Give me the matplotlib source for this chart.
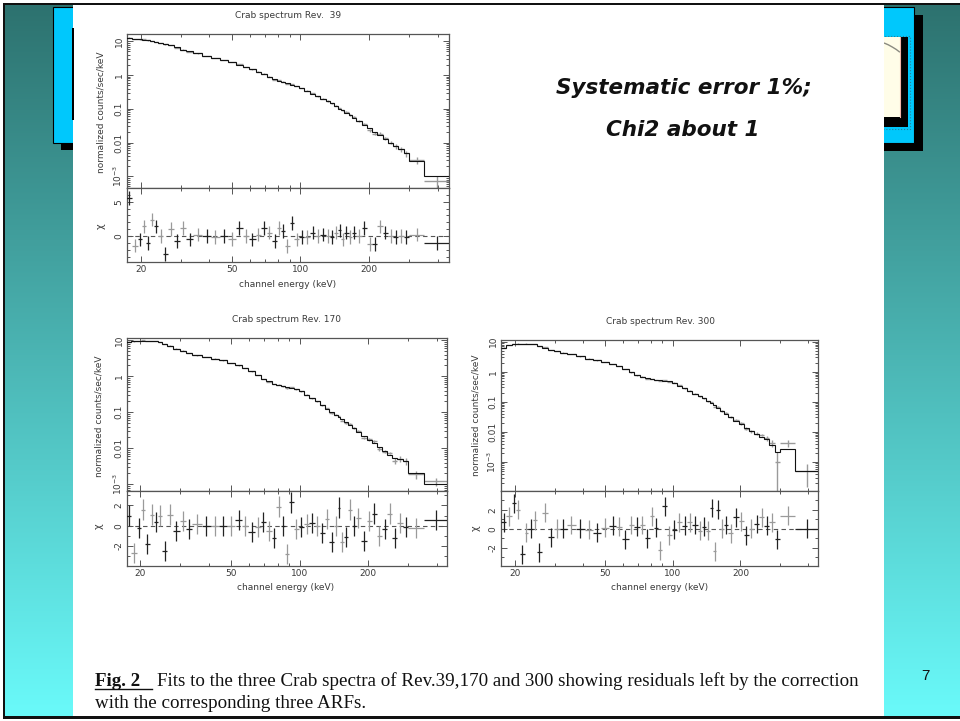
import numpy as np
import matplotlib
matplotlib.use("Agg")
import matplotlib.pyplot as plt
from matplotlib.patches import Rectangle, Arc
from matplotlib.ticker import (FixedLocator, FixedFormatter, NullFormatter,
                               LogLocator, MultipleLocator)

# ---------------- data ----------------
energy_edges = [17.3, 18.3, 19.4, 20.2, 21.0, 22.0, 22.9, 23.9, 25.0, 26.2,
                27.9, 29.8, 31.6, 33.9, 37.2, 40.8, 44.3, 48.2, 52.3, 56.0,
                59.6, 63.7, 67.6, 71.3, 75.3, 79.1, 82.6, 85.9, 89.9, 94.3,
                99.2, 104.3, 110.3, 116.3, 122.4, 129.1, 135.1, 141.2, 146.7, 151.0,
                156.2, 162.9, 169.0, 176.3, 186.1, 196.7, 206.9, 217.6, 230.0, 242.7,
                255.3, 268.6, 284.0, 300.0, 350.0, 450.0]

model_rev39 = [12.3, 12.0, 11.5, 11.2, 10.7, 10.2, 9.55, 8.91, 8.32, 7.59,
               6.61, 5.62, 5.01, 4.37, 3.72, 3.24, 2.82, 2.40, 2.04, 1.74,
               1.48, 1.26, 1.07, 0.891, 0.741, 0.676, 0.631, 0.575, 0.525, 0.479,
               0.417, 0.347, 0.282, 0.234, 0.200, 0.170, 0.145, 0.120, 0.102, 0.0912,
               0.0776, 0.0661, 0.0550, 0.0437, 0.0339, 0.0263, 0.0209, 0.0162, 0.0129, 0.0100,
               0.00794, 0.00631, 0.00501, 0.00282, 0.00102]
model_rev170 = [9.12, 9.55, 9.77, 9.77, 9.77, 9.55, 9.33, 8.91, 8.13, 7.08,
                5.89, 5.13, 4.47, 3.80, 3.39, 3.09, 2.75, 2.34, 2.00, 1.70,
                1.38, 1.10, 0.832, 0.724, 0.631, 0.562, 0.525, 0.490, 0.468, 0.437,
                0.380, 0.309, 0.245, 0.200, 0.158, 0.126, 0.102, 0.0851, 0.0724, 0.0631,
                0.0525, 0.0437, 0.0363, 0.0288, 0.0219, 0.0170, 0.0138, 0.0107, 0.00832, 0.00661,
                0.00550, 0.00490, 0.00447, 0.00200, 0.00102]
model_rev300 = [6.31, 7.76, 8.32, 8.51, 8.71, 8.71, 8.51, 8.13, 7.41, 6.31,
                5.37, 4.79, 4.37, 3.80, 3.24, 2.75, 2.40, 2.09, 1.78, 1.51,
                1.26, 0.955, 0.759, 0.676, 0.603, 0.562, 0.525, 0.513, 0.501, 0.479,
                0.427, 0.347, 0.282, 0.229, 0.186, 0.155, 0.129, 0.105, 0.0891, 0.0759,
                0.0617, 0.0501, 0.0407, 0.0316, 0.0234, 0.0178, 0.0138, 0.0105, 0.00832, 0.00692,
                0.00575, 0.00355, 0.00219, 0.00263, 0.000501]

chi_rev39 = [5.5, -1.4, -0.5, 1.4, -1.0, 2.4, 1.4, 0.0, -2.6, 1.0,
             -0.7, 1.2, -0.5, 0.2, 0.0, -0.2, 0.0, -0.4, 1.2, 0.0,
             -0.5, 0.2, 1.2, 0.5, -0.7, 1.2, 0.7, -1.5, 1.9, -0.5,
             -0.2, -0.1, 0.5, 0.0, 0.2, 0.0, -0.2, 0.5, 0.8, -0.5,
             0.5, -0.2, 0.5, 0.0, 1.2, -1.2, -1.2, 1.4, 0.5, 0.0,
             -0.2, 0.0, -0.2, 0.2, -1.0]
chi_rev170 = [1.0, -2.7, -0.2, 1.6, -1.8, 1.1, 0.4, 1.0, -2.5, 1.1,
              -0.5, 0.5, -0.3, 0.2, 0.0, 0.0, 0.0, 0.0, 0.6, 0.0,
              -0.6, -0.1, 0.4, -0.5, -1.2, 1.9, 0.0, -2.8, 2.3, -0.3,
              -0.1, 0.2, 0.3, 0.0, -0.7, 0.7, -1.6, 0.0, 1.8, -1.6,
              -1.1, 1.6, 0.0, 0.8, -1.5, 0.5, 1.2, -1.0, -0.3, 1.2,
              -1.2, 0.3, -0.1, -0.2, 0.6]
chi_rev300 = [0.7, 1.3, 2.7, 2.0, -2.7, -0.4, 0.0, 0.9, -2.5, 1.7,
              -0.9, 0.0, 0.0, 0.4, 0.0, -0.1, -0.4, 0.1, 0.3, 0.2,
              -1.1, 0.4, 0.2, 0.4, -1.0, 1.3, 0.1, -2.3, 2.4, -0.7,
              -0.1, 0.7, 0.3, 0.7, 0.4, -0.2, 0.2, -0.2, 2.2, -2.4,
              2.0, 0.0, 0.4, -0.5, 1.2, 0.8, -0.7, 0.0, 0.5, 1.2,
              0.3, 0.7, -1.1, 1.4, 0.0]

relerr_common = [0.01, 0.01, 0.01, 0.01, 0.01, 0.01, 0.01, 0.01, 0.01, 0.01,
                 0.012, 0.012, 0.012, 0.012, 0.012, 0.012, 0.012, 0.012, 0.012, 0.012,
                 0.02, 0.02, 0.02, 0.02, 0.02, 0.02, 0.02, 0.02, 0.02, 0.02,
                 0.03, 0.03, 0.03, 0.03, 0.03, 0.04, 0.04, 0.04, 0.04, 0.04,
                 0.06, 0.06, 0.06, 0.06, 0.06, 0.10, 0.10, 0.10, 0.10, 0.10,
                 0.15, 0.18, 0.20, 0.25, 0.30]
relerr_rev300 = [0.01, 0.01, 0.01, 0.01, 0.01, 0.01, 0.01, 0.01, 0.01, 0.01,
                 0.012, 0.012, 0.012, 0.012, 0.012, 0.012, 0.012, 0.012, 0.012, 0.012,
                 0.02, 0.02, 0.02, 0.02, 0.02, 0.02, 0.02, 0.02, 0.02, 0.02,
                 0.03, 0.03, 0.03, 0.03, 0.03, 0.04, 0.04, 0.04, 0.04, 0.04,
                 0.06, 0.06, 0.06, 0.06, 0.06, 0.10, 0.10, 0.10, 0.10, 0.10,
                 0.20, 0.30, 0.50, 0.40, 0.70]

xtick_values = [20, 50, 100, 200]
xtick_labels = ["20", "50", "100", "200"]
ytick_values = [1e-3, 1e-2, 1e-1, 1, 10]
ytick_labels = ["$10^{-3}$", "0.01", "0.1", "1", "10"]

titles = ["Crab spectrum Rev.  39", "Crab spectrum Rev. 170", "Crab spectrum Rev. 300"]
xlabel_text = "channel energy (keV)"
ylabel_text = "normalized counts/sec/keV"
note_lines = ["Systematic error 1%;", "Chi2 about 1"]
caption_fig = "Fig. 2"
caption_line1 = "Fits to the three Crab spectra of Rev.39,170 and 300 showing residuals left by the correction"
caption_line2 = "with the corresponding three ARFs."
page_number = "7"

# ---------------- figure ----------------
W, H = 960, 721
fig = plt.figure(figsize=(W / 100, H / 100), dpi=100)
fig.patch.set_facecolor("white")


def fx(x):
    return x / W


def fy(y):
    return 1 - y / H


def frame(l, t, r, b):
    return [l / W, 1 - b / H, (r - l) / W, (b - t) / H]


# background slide
bg = fig.add_axes([0, 0, 1, 1])
top_c = np.array([0x2d, 0x72, 0x6f]) / 255
bot_c = np.array([0x6a, 0xfa, 0xfa]) / 255
tt = np.linspace(0, 1, 256)[:, None, None]
grad = top_c * (1 - tt) + bot_c * tt
bg.imshow(grad, extent=[4, W, 717, 4], aspect="auto", interpolation="bilinear", zorder=0)
bg.set_xlim(0, W)
bg.set_ylim(H, 0)
bg.axis("off")

cyan = "#00c8fc"
# left decorative box
bg.add_patch(Rectangle((61, 15), 20, 135, fc="black", ec="none", zorder=1))
bg.add_patch(Rectangle((53, 7), 28, 136, fc=cyan, ec="black", lw=0.8, zorder=2))
# right decorative box
bg.add_patch(Rectangle((875, 15), 48, 136, fc="black", ec="none", zorder=1))
bg.add_patch(Rectangle((870, 7), 44, 136, fc=cyan, ec="black", lw=0.8, zorder=2))
bg.add_patch(Rectangle((870, 36), 40, 93, fill=False, ec="#2a7f9a", ls=":", lw=0.8, zorder=3))
bg.add_patch(Rectangle((870, 37), 38, 90, fc="black", ec="none", zorder=3))
bg.add_patch(Rectangle((870, 37), 30, 80, fc="#fffde8", ec="none", zorder=4))
bg.plot([900, 900], [37, 117], color="#f2b5a8", lw=0.8, zorder=5)
bg.add_patch(Arc((860.8, 101), 125, 125, theta1=-68.2, theta2=-51.3,
                 color="#8a8a80", lw=1.0, zorder=5))
# white content panel
bg.add_patch(Rectangle((73, 4), 811, 712, fc="white", ec="none", zorder=6))
bg.add_patch(Rectangle((72.3, 28), 1.2, 92, fc="black", ec="none", zorder=7))
# black frame lines
bg.add_patch(Rectangle((2.5, 2.5), W, 2.0, fc="#111", ec="none", zorder=8))
bg.add_patch(Rectangle((2.5, 2.5), 2.5, 716, fc="#111", ec="none", zorder=8))
bg.add_patch(Rectangle((2.5, 716), W, 2.5, fc="#111", ec="none", zorder=8))

txt_col = "#3a3a3a"
ax_col = "#555555"
small = 6.5


def draw_panel(box, divider, model, chi, relerr, xlim, spec_ylim, res_ylim,
               res_major, title, title_xy, xlabel_xy, ylabel_xy, chi_xy):
    l, t, r, b = box
    ax = fig.add_axes(frame(l, t, r, divider))
    axr = fig.add_axes(frame(l, divider, r, b))
    edges = np.array(energy_edges)
    lo, hi = edges[:-1], edges[1:]
    cen = np.sqrt(lo * hi)
    m = np.array(model)
    c = np.array(chi)
    s = np.array(relerr) * m
    data = m + c * s

    ax.set_xscale("log")
    ax.set_yscale("log", nonpositive="clip")
    ax.errorbar(cen, data, xerr=[cen - lo, hi - cen], yerr=s, fmt="none",
                ecolor="#9a9a9a", elinewidth=1.0, capsize=0, zorder=2)
    ax.stairs(m, edges, baseline=None, color="#111111", lw=0.8, zorder=3)

    axr.set_xscale("log")
    axr.axhline(0, color=ax_col, lw=0.8, ls=(0, (4, 3)), zorder=1)
    axr.errorbar(cen[::2], c[::2], xerr=[(cen - lo)[::2], (hi - cen)[::2]], yerr=1,
                 fmt="none", ecolor="#222222", elinewidth=0.9, capsize=0, zorder=3)
    axr.errorbar(cen[1::2], c[1::2], xerr=[(cen - lo)[1::2], (hi - cen)[1::2]], yerr=1,
                 fmt="none", ecolor="#9a9a9a", elinewidth=0.9, capsize=0, zorder=2)

    for a in (ax, axr):
        a.set_xlim(*xlim)
        a.xaxis.set_major_locator(FixedLocator(xtick_values))
        a.xaxis.set_minor_locator(FixedLocator([30, 40, 60, 70, 80, 90, 300, 400]))
        a.xaxis.set_minor_formatter(NullFormatter())
        a.tick_params(which="both", direction="in", top=True, right=True,
                      color=ax_col, width=0.7, labelsize=small, labelcolor=txt_col)
        a.tick_params(which="major", length=4)
        a.tick_params(which="minor", length=2.2)
        for sp in a.spines.values():
            sp.set_color(ax_col)
            sp.set_linewidth(0.9)
    ax.xaxis.set_major_formatter(NullFormatter())
    axr.xaxis.set_major_formatter(FixedFormatter(xtick_labels))
    axr.tick_params(axis="x", pad=2.5)

    ax.set_ylim(*spec_ylim)
    ax.yaxis.set_major_locator(FixedLocator(ytick_values))
    ax.yaxis.set_major_formatter(FixedFormatter(ytick_labels))
    ax.yaxis.set_minor_locator(LogLocator(base=10, subs=np.arange(2, 10), numticks=20))
    ax.yaxis.set_minor_formatter(NullFormatter())
    ax.tick_params(axis="y", labelrotation=90, pad=2.5)
    plt.setp(ax.get_yticklabels(), va="center")

    axr.set_ylim(*res_ylim)
    axr.yaxis.set_major_locator(FixedLocator(res_major))
    axr.yaxis.set_major_formatter(FixedFormatter([str(v) for v in res_major]))
    axr.yaxis.set_minor_locator(MultipleLocator(1))
    axr.tick_params(axis="y", labelrotation=90, pad=2.5)
    plt.setp(axr.get_yticklabels(), va="center")

    fig.text(fx(title_xy[0]), fy(title_xy[1]), title, ha="center", va="center",
             fontsize=small, color=txt_col)
    fig.text(fx(xlabel_xy[0]), fy(xlabel_xy[1]), xlabel_text, ha="center", va="center",
             fontsize=small, color=txt_col)
    fig.text(fx(ylabel_xy[0]), fy(ylabel_xy[1]), ylabel_text, ha="center", va="center",
             rotation=90, fontsize=small, color=txt_col)
    fig.text(fx(chi_xy[0]), fy(chi_xy[1]), "χ", ha="center", va="center",
             rotation=90, fontsize=small + 0.5, color=txt_col)


draw_panel((127, 34, 449, 262), 188, model_rev39, chi_rev39, relerr_common,
           (17.4, 449), (4.5e-4, 16.5), (-3.8, 7.0), [0, 5], titles[0],
           (288, 15), (288, 284), (101, 112), (101, 226))
draw_panel((127, 338, 447, 566), 491, model_rev170, chi_rev170, relerr_common,
           (17.5, 443), (6.5e-4, 11.6), (-3.97, 3.43), [-2, 0, 2], titles[1],
           (286, 320), (286, 588), (99, 416), (99, 526))
draw_panel((501, 340, 818, 566), 491, model_rev300, chi_rev300, relerr_rev300,
           (17.3, 442), (1.07e-4, 11.4), (-3.95, 4.0), [-2, 0, 2], titles[2],
           (660, 321), (660, 587), (476, 415), (476, 528))

# note text
fig.text(fx(684), fy(88), note_lines[0], ha="center", va="center", fontsize=15.5,
         fontweight="bold", fontstyle="italic", family="DejaVu Sans", color="#111")
fig.text(fx(683), fy(130), note_lines[1], ha="center", va="center", fontsize=15.5,
         fontweight="bold", fontstyle="italic", family="DejaVu Sans", color="#111")

# caption
cap_font = "Liberation Serif"
t_fig = fig.text(fx(95), fy(686), caption_fig, ha="left", va="baseline", fontsize=12,
                 fontweight="bold", family=cap_font, color="#111")
t_main = fig.text(fx(157), fy(686), caption_line1, ha="left", va="baseline", fontsize=12,
                  family=cap_font, color="#111")
renderer = fig.canvas.get_renderer()
w_main = t_main.get_window_extent(renderer).width
fs = 12 * 701 / w_main
t_main.set_fontsize(fs)
t_fig.set_fontsize(fs)
fig.text(fx(95), fy(708), caption_line2, ha="left", va="baseline", fontsize=fs,
         family=cap_font, color="#111")
bg.plot([95, 152], [688.5, 688.5], color="#111", lw=1.0, zorder=9)

fig.text(fx(925), fy(676), page_number, ha="center", va="center", fontsize=11,
         family="Liberation Sans", color="#111")

fig.savefig("out.png", dpi=100)
